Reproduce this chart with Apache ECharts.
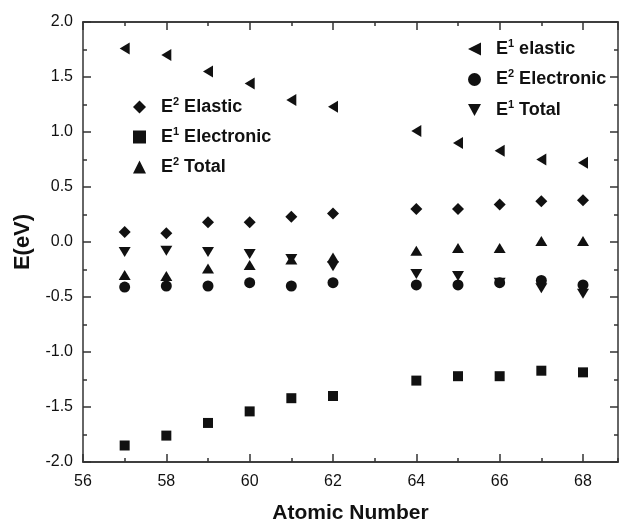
<!DOCTYPE html>
<html>
<head>
<meta charset="utf-8">
<title>E(eV) vs Atomic Number</title>
<script src="https://cdn.jsdelivr.net/npm/echarts@6/dist/echarts.min.js"></script>
<style>
  html, body { margin: 0; padding: 0; background: #fff; }
  #chart { width: 623px; height: 522px; }
</style>
</head>
<body>
<div id="chart"></div>
<script>
(function() {
  'use strict';

  // --- Data ---
  var atomicNumbers = [57, 58, 59, 60, 61, 62, 64, 65, 66, 67, 68];
  var e1Elastic     = [1.76, 1.70, 1.55, 1.44, 1.29, 1.23, 1.01, 0.90, 0.83, 0.75, 0.72];
  var e2Elastic     = [0.09, 0.08, 0.18, 0.18, 0.23, 0.26, 0.30, 0.30, 0.34, 0.37, 0.38];
  var e1Electronic  = [-1.85, -1.76, -1.645, -1.54, -1.42, -1.40, -1.26, -1.22, -1.22, -1.17, -1.185];
  var e2Electronic  = [-0.41, -0.40, -0.40, -0.37, -0.40, -0.37, -0.39, -0.39, -0.37, -0.35, -0.39];
  var e1Total       = [-0.09, -0.08, -0.09, -0.11, -0.155, -0.22, -0.29, -0.31, -0.37, -0.42, -0.47];
  var e2Total       = [-0.30, -0.31, -0.24, -0.21, -0.16, -0.14, -0.08, -0.055, -0.055, 0.01, 0.01];

  var legendLeft  = ['E2 Elastic', 'E1 Electronic', 'E2 Total'];
  var legendRight = ['E1 elastic', 'E2 Electronic', 'E1 Total'];

  var X_MIN = 56, X_MAX = 68.84;
  var Y_MIN = -2, Y_MAX = 2;

  var FONT = '"Liberation Sans", Arial, Helvetica, sans-serif';
  var INK = '#111';
  var AXIS = '#333';

  // legend icons: rotated triangles are not inherited by the legend, so draw them as paths
  var LEFT_TRI = 'path://M0,6 L12,0 L12,12 Z';
  var DOWN_TRI = 'path://M0,0 L12,0 L6,11 Z';
  var legendIcons = { 'E1 elastic': LEFT_TRI, 'E1 Total': DOWN_TRI };

  function pairs(ys) {
    return atomicNumbers.map(function(x, i) { return [x, ys[i]]; });
  }

  function scatter(name, ys, symbol, size, rotate) {
    return {
      name: name,
      type: 'scatter',
      data: pairs(ys),
      symbol: symbol,
      symbolSize: size,
      symbolRotate: rotate || 0,
      itemStyle: { color: INK, opacity: 1 },
      emphasis: { disabled: true }
    };
  }

  // legend text with a small raised digit: "E2 Elastic" -> E^2 Elastic
  function legendText(name) {
    return '{p|}{m|E}{s|' + name.charAt(1) + '}{m|' + name.slice(2) + '}';
  }

  var legendRich = {
    p: { width: 10 },
    m: { fontFamily: FONT, fontSize: 18, fontWeight: 'bold', color: INK, lineHeight: 22 },
    s: { fontFamily: FONT, fontSize: 11, fontWeight: 'bold', color: INK, verticalAlign: 'top', lineHeight: 12 }
  };

  function legend(names, left, top, gap) {
    return {
      data: names.map(function(n) {
        return legendIcons[n] ? { name: n, icon: legendIcons[n] } : n;
      }),
      orient: 'vertical',
      left: left,
      top: top,
      itemWidth: 13,
      itemHeight: 13,
      itemGap: gap,
      selectedMode: false,
      formatter: legendText,
      textStyle: { rich: legendRich }
    };
  }

  var axisLine = { show: true, onZero: false, lineStyle: { color: AXIS, width: 1.5 } };

  function xAxis(position, interval, tickLen, withLabels) {
    return {
      type: 'value',
      position: position,
      min: X_MIN,
      max: X_MAX,
      interval: interval,
      axisLine: axisLine,
      axisTick: { show: true, inside: true, length: tickLen, lineStyle: { color: AXIS, width: 1.5 } },
      axisLabel: withLabels ? {
        show: true, margin: 12, showMaxLabel: false, showMinLabel: true,
        fontFamily: FONT, fontSize: 16, color: INK
      } : { show: false },
      splitLine: { show: false },
      name: withLabels ? 'Atomic Number' : '',
      nameLocation: 'middle',
      nameGap: 41,
      nameTextStyle: { fontFamily: FONT, fontSize: 21, fontWeight: 'bold', color: INK }
    };
  }

  function yAxis(position, withLabels) {
    return {
      type: 'value',
      position: position,
      min: Y_MIN,
      max: Y_MAX,
      interval: 0.5,
      axisLine: axisLine,
      axisTick: { show: true, inside: true, length: 8, lineStyle: { color: AXIS, width: 1.5 } },
      minorTick: { show: true, splitNumber: 2, length: 4, lineStyle: { color: AXIS, width: 1.5 } },
      axisLabel: withLabels ? {
        show: true, margin: 10, fontFamily: FONT, fontSize: 16, color: INK,
        formatter: function(v) { return v.toFixed(1); }
      } : { show: false },
      splitLine: { show: false },
      name: withLabels ? 'E(eV)' : '',
      nameLocation: 'middle',
      nameGap: 49,
      nameTextStyle: { fontFamily: FONT, fontSize: 22, fontWeight: 'bold', color: INK }
    };
  }

  var chart = echarts.init(document.getElementById('chart'), null, { renderer: 'canvas' });

  chart.setOption({
    animation: false,
    backgroundColor: '#fff',
    grid: { left: 83, right: 5, top: 22, bottom: 60, outerBoundsMode: 'none' },
    legend: [
      legend(legendLeft, 128, 91, 10),
      legend(legendRight, 463, 33, 10.5)
    ],
    xAxis: [
      xAxis('bottom', 2, 8, true),
      xAxis('bottom', 1, 4, false),
      xAxis('top', 2, 8, false),
      xAxis('top', 1, 4, false)
    ],
    yAxis: [
      yAxis('left', true),
      yAxis('right', false)
    ],
    series: [
      scatter('E1 elastic', e1Elastic, 'triangle', [12, 10], 90),
      scatter('E2 Elastic', e2Elastic, 'diamond', [12, 12]),
      scatter('E1 Electronic', e1Electronic, 'rect', [10, 10]),
      scatter('E2 Electronic', e2Electronic, 'circle', 11),
      scatter('E1 Total', e1Total, 'triangle', [12, 10], 180),
      scatter('E2 Total', e2Total, 'triangle', [12, 10])
    ]
  });
})();
</script>
</body>
</html>
